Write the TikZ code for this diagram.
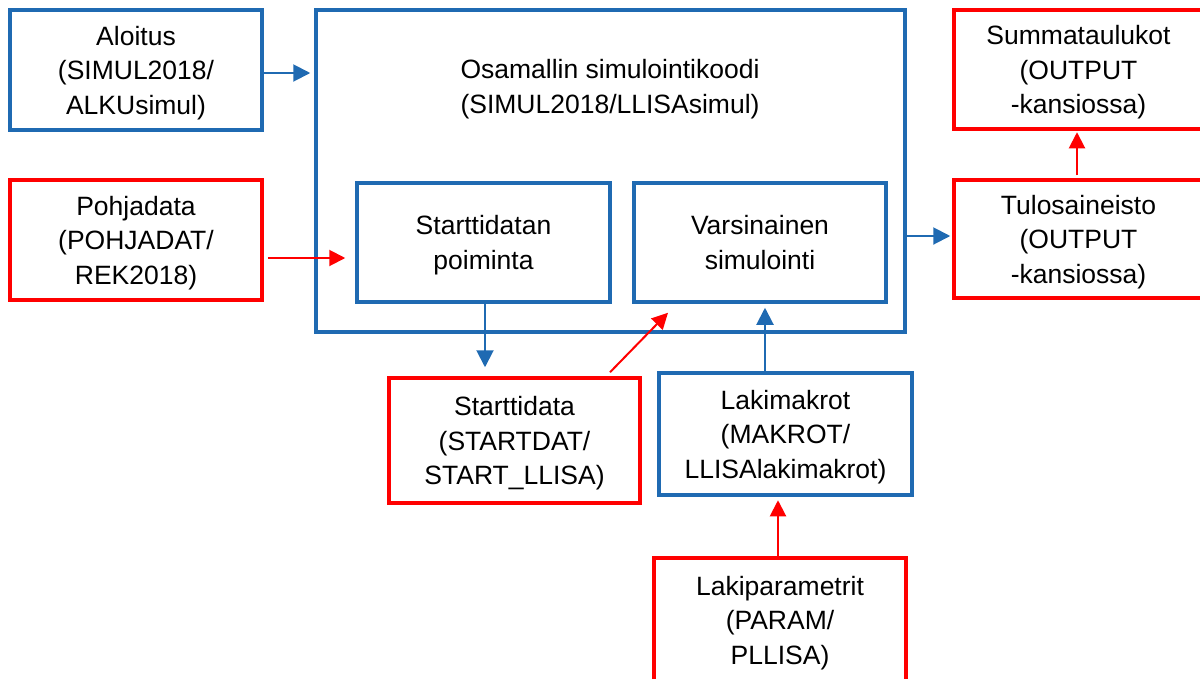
\documentclass[tikz,border=0pt]{standalone}
\usepackage{fontspec}
\setmainfont{Liberation Sans}
\usetikzlibrary{arrows.meta}
\definecolor{sininen}{RGB}{31,106,178}
\definecolor{punainen}{RGB}{255,0,0}

\begin{document}
\begin{tikzpicture}[x=1pt,y=-1pt,
  teksti/.style={align=center,inner sep=0pt,font=\fontsize{26.5}{34.5}\selectfont},
  laatikko/.style={teksti,draw,line width=3.5pt,text depth=-4pt},
  sinlaatikko/.style={laatikko,draw=sininen},
  punlaatikko/.style={laatikko,draw=punainen},
  sinnuoli/.style={draw=sininen,line width=2pt,-{Triangle[length=17pt,width=17pt]}},
  punnuoli/.style={draw=punainen,line width=2pt,-{Triangle[length=16pt,width=16pt]}}]

\useasboundingbox (0,0) rectangle (1200,678);

\node[sinlaatikko,minimum width=252pt,minimum height=120pt] (aloitus) at (136,70) {Aloitus\\(SIMUL2018/\\ALKUsimul)};
\node[sinlaatikko,minimum width=589pt,minimum height=322pt] (paa) at (610.5,171) {};
\node[teksti] (otsikko) at (610,89) {Osamallin simulointikoodi\\(SIMUL2018/LLISAsimul)};
\node[sinlaatikko,minimum width=253pt,minimum height=119pt] (poiminta) at (483.5,242.5) {Starttidatan\\poiminta};
\node[sinlaatikko,minimum width=252pt,minimum height=119pt] (varsinainen) at (760,242.5) {Varsinainen\\simulointi};

\node[punlaatikko,minimum width=252pt,minimum height=120pt] (pohjadata) at (136,240) {Pohjadata\\(POHJADAT/\\REK2018)};
\node[punlaatikko,minimum width=249pt,minimum height=119pt] (summa) at (1078.5,69.5) {Summataulukot\\(OUTPUT\\-kansiossa)};
\node[punlaatikko,minimum width=249pt,minimum height=118pt] (tulos) at (1078.5,239) {Tulosaineisto\\(OUTPUT\\-kansiossa)};
\node[punlaatikko,minimum width=251pt,minimum height=125pt] (starttidata) at (514.5,440.5) {Starttidata\\(STARTDAT/\\START\_LLISA)};
\node[sinlaatikko,minimum width=253pt,minimum height=122pt] (lakimakrot) at (785.5,434) {Lakimakrot\\(MAKROT/\\LLISAlakimakrot)};
\node[punlaatikko,minimum width=252pt,minimum height=124pt] (lakiparam) at (780,620) {Lakiparametrit\\(PARAM/\\PLLISA)};

\draw[sinnuoli,shorten >=4pt] ([yshift=-3pt]aloitus.east) -- ([yshift=-3pt]aloitus.east -| paa.west);
\draw[punnuoli,shorten <=4pt,shorten >=10pt] ([yshift=-18pt]pohjadata.east) -- ([yshift=-18pt]pohjadata.east -| poiminta.west);
\draw[sinnuoli,shorten >=9pt] ([xshift=1.5pt]poiminta.south) -- ([xshift=1.5pt]poiminta.south |- starttidata.north);
\draw[punnuoli] ([shift={(95.5pt,4pt)}]starttidata.north) -- ([shift={(-92pt,-9pt)}]varsinainen.south);
\draw[sinnuoli,shorten >=4pt] ([xshift=-20.5pt]lakimakrot.north) -- ([xshift=-20.5pt]lakimakrot.north |- varsinainen.south);
\draw[punnuoli,shorten >=3.5pt] ([xshift=-2pt]lakiparam.north) -- ([xshift=-2pt]lakiparam.north |- lakimakrot.south);
\draw[sinnuoli,shorten >=2pt] ([yshift=3pt]tulos.west -| paa.east) -- ([yshift=3pt]tulos.west);
\draw[punnuoli,shorten <=3pt,shorten >=1.5pt] ([xshift=-1.5pt]tulos.north) -- ([xshift=-1.5pt]tulos.north |- summa.south);

\end{tikzpicture}
\end{document}
